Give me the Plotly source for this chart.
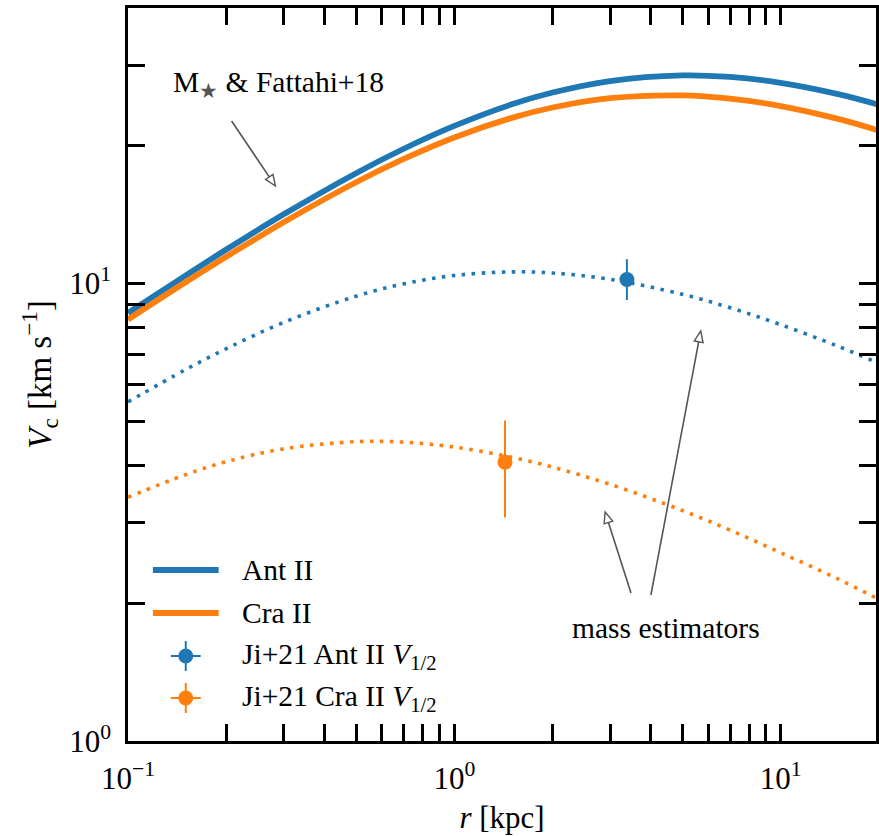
import plotly.graph_objects as go

# Circular velocity curves, radius in kpc
r = [0.1, 0.15, 0.2, 0.3, 0.5, 0.7, 1, 1.5, 2, 3, 5, 7, 10, 15, 20]
v_ant = [8.62, 10.40, 11.86, 14.16, 17.42, 19.70, 22.10, 24.63, 26.14, 27.70, 28.50, 28.27, 27.45, 25.93, 24.58]
v_cra = [8.34, 10.06, 11.44, 13.61, 16.64, 18.71, 20.85, 23.01, 24.24, 25.41, 25.77, 25.35, 24.42, 22.89, 21.59]
v_ant_est = [5.51, 6.48, 7.20, 8.22, 9.38, 9.98, 10.41, 10.60, 10.54, 10.21, 9.47, 8.85, 8.13, 7.29, 6.69]
v_cra_est = [3.41, 3.82, 4.08, 4.35, 4.51, 4.50, 4.39, 4.17, 3.97, 3.64, 3.19, 2.89, 2.58, 2.26, 2.04]

# Ji+21 half-light measurements
names_half = ["Ant II", "Cra II"]
r_half = [3.38, 1.43]
v_half = [10.2, 4.07]
v_half_hi = [1.1, 0.95]
v_half_lo = [1.0, 0.99]

x_major = [0.1, 1, 10]
x_major_text = ["10<sup>\u22121</sup>", "10<sup>0</sup>", "10<sup>1</sup>"]
x_minor = [0.2, 0.3, 0.4, 0.5, 0.6, 0.7, 0.8, 0.9, 2, 3, 4, 5, 6, 7, 8, 9, 20]
y_major = [1, 10]
y_major_text = ["10<sup>0</sup>", "10<sup>1</sup>"]
y_minor = [2, 3, 4, 5, 6, 7, 8, 9, 20, 30, 40]

BLUE = "#1f77b4"
ORANGE = "#ff7f0e"
GREY = "#555555"
FONT = "Liberation Serif"
TXT = 29.5

W, H = 879, 836
ML, MR, MT, MB = 128, 0, 8, 95
PW, PH = W - ML - MR, H - MT - MB


def px(x, y):
    """pixel position -> paper fraction"""
    return (x - ML) / PW, (H - MB - y) / PH


fig = go.Figure()
for yv, col, dash in [(v_ant, BLUE, "solid"), (v_cra, ORANGE, "solid"),
                      (v_ant_est, BLUE, "3.5px,6.5px"), (v_cra_est, ORANGE, "3.5px,6.5px")]:
    fig.add_trace(go.Scatter(
        x=r, y=yv, mode="lines", line_shape="spline",
        line=dict(color=col, width=5.8 if dash == "solid" else 3.6, dash=dash),
        showlegend=False, hoverinfo="skip"))

for i, col in enumerate([BLUE, ORANGE]):
    fig.add_trace(go.Scatter(
        x=[r_half[i]], y=[v_half[i]], mode="markers", name=names_half[i],
        marker=dict(color=col, size=15),
        error_y=dict(type="data", symmetric=False, array=[v_half_hi[i]],
                     arrayminus=[v_half_lo[i]], color=col, thickness=2, width=0),
        showlegend=False))

shapes = []
annotations = []


def arrow(tail, head, L=11, w=4.5):
    tx, ty = tail
    hx, hy = head
    dx, dy = hx - tx, hy - ty
    n = (dx * dx + dy * dy) ** 0.5
    ux, uy = dx / n, dy / n
    bx, by = hx - L * ux, hy - L * uy
    p0 = px(tx, ty)
    p1 = px(bx, by)
    shapes.append(dict(type="line", xref="paper", yref="paper",
                       x0=p0[0], y0=p0[1], x1=p1[0], y1=p1[1],
                       line=dict(color=GREY, width=1.6)))
    a = px(hx, hy)
    b = px(bx - w * uy, by + w * ux)
    c = px(bx + w * uy, by - w * ux)
    path = f"M {a[0]},{a[1]} L {b[0]},{b[1]} L {c[0]},{c[1]} Z"
    shapes.append(dict(type="path", xref="paper", yref="paper", path=path,
                       fillcolor="white", line=dict(color=GREY, width=1.4)))


arrow((232, 121), (276, 186))
arrow((633, 593), (607, 512))
arrow((653, 595), (703, 331))


def text(x, y, s, anchor="left"):
    p = px(x, y)
    annotations.append(dict(xref="paper", yref="paper", x=p[0], y=p[1], text=s,
                            showarrow=False, xanchor=anchor, yanchor="middle",
                            font=dict(family=FONT, size=TXT, color="black")))


text(171, 84, "M<sub><span style='color:#555555'>\u2605</span></sub> & Fattahi+18")
text(572, 628, "mass estimators")

# legend
legend_rows = [
    ("line", BLUE, "Ant II", 570),
    ("line", ORANGE, "Cra II", 613),
    ("point", BLUE, "Ji+21 Ant II <i>V</i><sub>1/2</sub>", 656),
    ("point", ORANGE, "Ji+21 Cra II <i>V</i><sub>1/2</sub>", 698),
]
for kind, col, label, yy in legend_rows:
    if kind == "line":
        a, b = px(153, yy), px(219, yy)
        shapes.append(dict(type="line", xref="paper", yref="paper", x0=a[0], y0=a[1],
                           x1=b[0], y1=b[1], line=dict(color=col, width=5.8)))
    else:
        cx = 186
        a, b = px(cx - 15, yy), px(cx + 15, yy)
        shapes.append(dict(type="line", xref="paper", yref="paper", x0=a[0], y0=a[1],
                           x1=b[0], y1=b[1], line=dict(color=col, width=2)))
        a, b = px(cx, yy - 15), px(cx, yy + 15)
        shapes.append(dict(type="line", xref="paper", yref="paper", x0=a[0], y0=a[1],
                           x1=b[0], y1=b[1], line=dict(color=col, width=2)))
        a, b = px(cx - 7.5, yy + 7.5), px(cx + 7.5, yy - 7.5)
        shapes.append(dict(type="circle", xref="paper", yref="paper", x0=a[0], y0=a[1],
                           x1=b[0], y1=b[1], fillcolor=col, line=dict(width=0)))
    text(240, yy, label)

axis_common = dict(
    type="log", showgrid=False, zeroline=False,
    showline=True, linecolor="black", linewidth=2.5,
    ticks="inside", ticklen=17, tickwidth=3, tickcolor="black",
    tickfont=dict(family=FONT, size=31, color="black"),
)

fig.update_layout(
    width=W, height=H,
    margin=dict(l=ML, r=MR, t=MT, b=MB),
    paper_bgcolor="white", plot_bgcolor="white",
    font=dict(family=FONT, color="black"),
    showlegend=False,
    shapes=shapes, annotations=annotations,
    xaxis=dict(**axis_common, range=[-1, 1.2923], mirror="allticks",
               tickvals=x_major, ticktext=x_major_text, ticklabelstandoff=8,
               minor=dict(tickvals=x_minor, ticks="inside", ticklen=17,
                          tickwidth=3, tickcolor="black"),
               title=dict(text="<i>r</i> [kpc]", standoff=12,
                          font=dict(family=FONT, size=31, color="black"))),
    yaxis=dict(**axis_common, range=[0, 1.60206], mirror="ticks",
               tickvals=y_major, ticktext=y_major_text, ticklabelstandoff=8,
               minor=dict(tickvals=y_minor, ticks="inside", ticklen=17,
                          tickwidth=3, tickcolor="black"),
               title=dict(text="<i>V</i><sub>c</sub> [km s<sup>\u22121</sup>]", standoff=8,
                          font=dict(family=FONT, size=33, color="black"))),
)

fig.write_html("out.html")
